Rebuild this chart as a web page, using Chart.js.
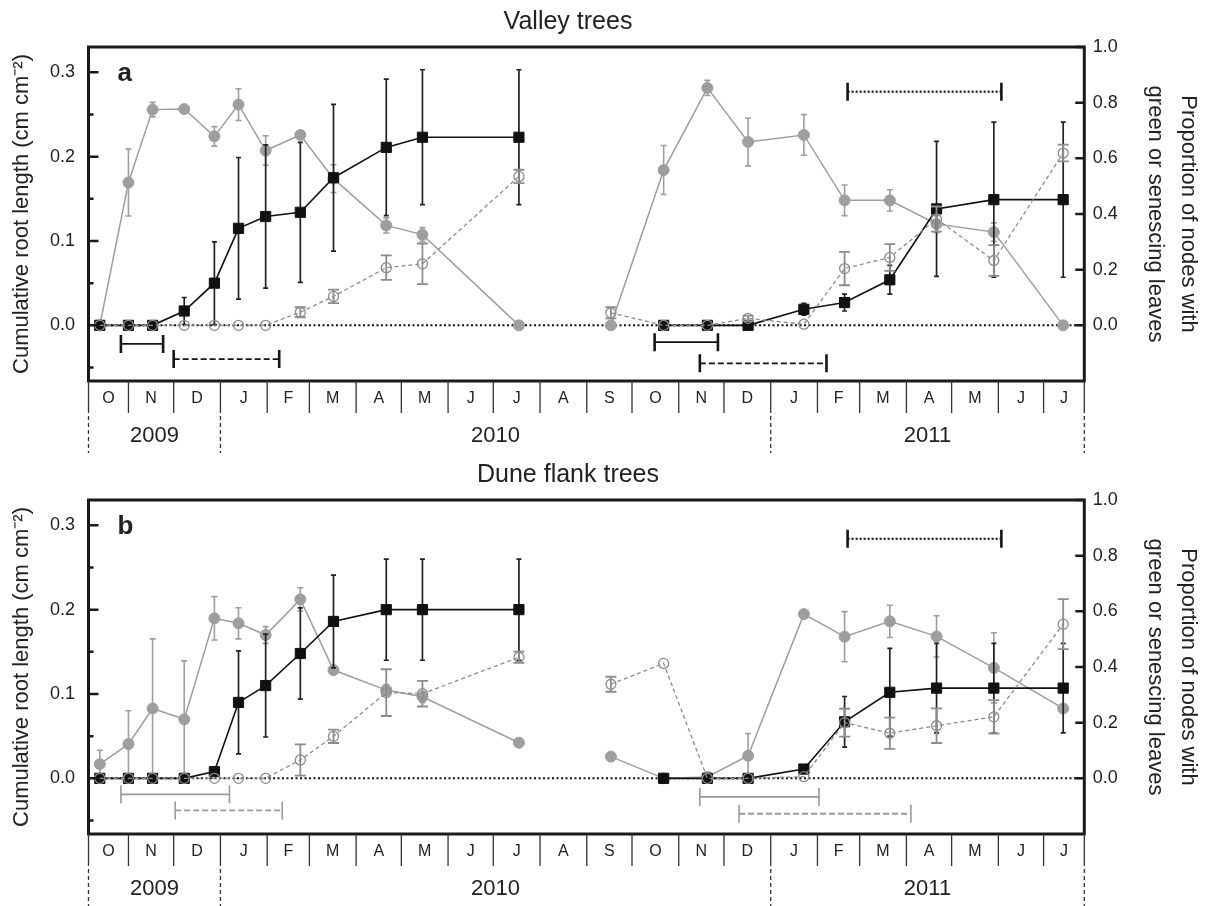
<!DOCTYPE html>
<html>
<head>
<meta charset="utf-8">
<title>Root growth and leaf phenology</title>
<script src="https://cdn.jsdelivr.net/npm/chart.js@4.4.1/dist/chart.umd.min.js"></script>
<style>
  body { margin: 0; background: #fff; }
  canvas { display: block; }
</style>
</head>
<body>
<canvas id="valleyChart" width="1210" height="453"></canvas>
<canvas id="duneChart" width="1210" height="453"></canvas>
<script>
// Sampling dates, shared by both panels
const sampleDates = [
  '2009-10-13', '2009-11-01', '2009-11-17', '2009-12-08', '2009-12-28', '2010-01-13',
  '2010-01-31', '2010-02-23', '2010-03-17', '2010-04-21', '2010-05-15', '2010-07-18',
  '2010-09-17', '2010-10-22', '2010-11-20', '2010-12-17', '2011-01-23', '2011-02-19',
  '2011-03-21', '2011-04-21', '2011-05-29', '2011-07-14'
];
const seasonBreak = 11; // last sample of the first season, lines are not joined after it

const monthLetters = ['O', 'N', 'D', 'J', 'F', 'M', 'A', 'M', 'J', 'J', 'A', 'S',
                      'O', 'N', 'D', 'J', 'F', 'M', 'A', 'M', 'J', 'J'];
const yearLabels = ['2009', '2010', '2011'];
const yearStarts = ['2009-10-01', '2010-01-01', '2011-01-01', '2011-08-01'];

// Valley trees (a)
const rootA     = [0, 0, 0, 0.017, 0.050, 0.115, 0.129, 0.134, 0.175, 0.211, 0.223, 0.223,
                   null, 0, 0, 0, 0.019, 0.027, 0.054, 0.138, 0.149, 0.149];
const rootErrA  = [0, 0, 0, 0.016, 0.049, 0.084, 0.085, 0.083, 0.087, 0.081, 0.080, 0.080,
                   null, 0, 0, 0, 0.007, 0.010, 0.017, 0.080, 0.092, 0.092];
const greenA    = [0, 0.513, 0.775, 0.777, 0.679, 0.793, 0.628, 0.684, 0.527, 0.359, 0.326, 0,
                   0, 0.558, 0.853, 0.659, 0.684, 0.449, 0.449, 0.364, 0.335, 0];
const greenErrA = [0, 0.120, 0.026, 0, 0.035, 0.057, 0.053, 0.010, 0.050, 0.027, 0.025, 0,
                   0, 0.088, 0.027, 0.086, 0.073, 0.055, 0.038, 0.030, 0.033, 0];
const senesA    = [0, 0, 0, 0, 0, 0, 0, 0.047, 0.104, 0.207, 0.221, 0.535,
                   0.045, 0, 0, 0.025, 0.004, 0.204, 0.244, 0.382, 0.233, 0.619];
const senesErrA = [0, 0, 0, 0, 0, 0, 0, 0.018, 0.024, 0.044, 0.073, 0.024,
                   0.020, 0, 0, 0.010, 0, 0.060, 0.048, 0.045, 0.055, 0.030];
const periodStartA = ['2009-10-27', '2009-12-01', '2010-10-16', '2010-11-15', '2011-02-21'];
const periodEndA   = ['2009-11-24', '2010-02-09', '2010-11-27', '2011-02-07', '2011-06-03'];
const periodLevelA = [-0.022, -0.040, -0.020, -0.045, 0.277];
const periodKindA  = ['solid', 'dashed', 'solid', 'dashed', 'dotted'];

// Dune flank trees (b)
const rootB     = [0, 0, 0, 0, 0.008, 0.090, 0.110, 0.148, 0.186, 0.200, 0.200, 0.200,
                   null, 0, 0, 0, 0.011, 0.067, 0.102, 0.107, 0.107, 0.107];
const rootErrB  = [0, 0, 0, 0, 0, 0.061, 0.061, 0.054, 0.055, 0.060, 0.060, 0.060,
                   null, 0, 0, 0, 0, 0.030, 0.052, 0.053, 0.053, 0.053];
const greenB    = [0.051, 0.123, 0.251, 0.212, 0.575, 0.557, 0.515, 0.643, 0.389, 0.317, 0.293, 0.128,
                   0.078, 0, 0.005, 0.081, 0.590, 0.509, 0.564, 0.510, 0.397, 0.251];
const greenErrB = [0.050, 0.120, 0.250, 0.210, 0.078, 0.056, 0.030, 0.042, 0, 0.020, 0.020, 0.015,
                   0, 0, 0, 0.080, 0, 0.090, 0.058, 0.074, 0.126, 0];
const senesB    = [0, 0, 0, 0, 0, 0, 0, 0.066, 0.151, 0.308, 0.304, 0.435,
                   0.338, 0.413, 0, 0, 0.006, 0.200, 0.162, 0.189, 0.221, 0.554];
const senesErrB = [0, 0, 0, 0, 0, 0, 0, 0.056, 0.024, 0.084, 0.046, 0.020,
                   0.027, 0, 0, 0, 0, 0.050, 0.056, 0.062, 0.060, 0.090];
const periodStartB = ['2009-10-27', '2009-12-02', '2010-11-15', '2010-12-11', '2011-02-21'];
const periodEndB   = ['2010-01-07', '2010-02-11', '2011-02-02', '2011-04-04', '2011-06-03'];
const periodLevelB = [-0.019, -0.038, -0.022, -0.042, 0.284];
const periodKindB  = ['solid', 'dashed', 'solid', 'dashed', 'dotted'];

const FONT = '"Liberation Sans", Arial, Helvetica, sans-serif';
Chart.defaults.font.family = FONT;
Chart.defaults.color = '#222';

// x axis is days since 1 Oct 2009
const origin = Date.UTC(2009, 9, 1);
function dayOf(s) {
  const [y, m, d] = s.split('-').map(Number);
  return (Date.UTC(y, m - 1, d) - origin) / 864e5;
}
const xMin = 4.5, xMax = 665;

function points(values) {
  return sampleDates.map((d, i) => ({ x: dayOf(d), y: values[i] }));
}

// tick label: blank below zero, and no "-0.0"
function tickLabel(v) {
  if (v < -1e-9) return '';
  return Math.abs(v) < 1e-9 ? '0.0' : v.toFixed(1);
}

// hide the segment that would join the two field seasons
const seasonGap = { borderColor: c => c.p0DataIndex === seasonBreak ? 'rgba(0,0,0,0)' : undefined };

/**
 * Error bars, drawn under the markers of each dataset that carries an `errors` list.
 */
const errorBars = {
  id: 'errorBars',
  beforeDatasetDraw(chart, args) {
    const ds = chart.data.datasets[args.index];
    if (!ds.errors) return;
    const yScale = chart.scales[ds.yAxisID];
    const ctx = chart.ctx;
    ctx.save();
    ctx.strokeStyle = ds.errorColor;
    ctx.lineWidth = ds.errorWidth;
    args.meta.data.forEach((pt, i) => {
      const v = ds.data[i].y, e = ds.errors[i];
      if (v == null || !e) return;
      const top = yScale.getPixelForValue(v + e);
      const bot = yScale.getPixelForValue(v - e);
      const half = ds.capWidth / 2;
      ctx.beginPath();
      ctx.moveTo(pt.x, top); ctx.lineTo(pt.x, bot);
      ctx.moveTo(pt.x - half, top); ctx.lineTo(pt.x + half, top);
      ctx.moveTo(pt.x - half, bot); ctx.lineTo(pt.x + half, bot);
      ctx.stroke();
    });
    ctx.restore();
  }
};

/**
 * Frame, inward ticks, zero line, month/year strip, panel title and letter.
 */
const panelDecor = {
  id: 'panelDecor',
  beforeDatasetsDraw(chart) {
    const { ctx, chartArea: a, scales: { y } } = chart;
    const y0 = y.getPixelForValue(0);
    ctx.save();
    ctx.strokeStyle = '#111';
    ctx.lineWidth = 2;
    ctx.setLineDash([2, 2.5]);
    ctx.beginPath();
    ctx.moveTo(a.left, y0);
    ctx.lineTo(a.right, y0);
    ctx.stroke();
    ctx.restore();
  },
  afterDraw(chart, args, opts) {
    const { ctx, chartArea: a, scales: { x, y, y2 } } = chart;
    ctx.save();

    // inward ticks on both value axes
    ctx.strokeStyle = '#1a1a1a';
    ctx.lineWidth = 2.5;
    ctx.beginPath();
    for (let k = -1; k <= 6; k++) {
      const py = y.getPixelForValue(k * 0.05);
      const len = k % 2 === 0 ? 10 : 5;
      ctx.moveTo(a.left, py); ctx.lineTo(a.left + len, py);
    }
    for (let k = 0; k <= 5; k++) {
      const py = y2.getPixelForValue(k * 0.2);
      ctx.moveTo(a.right, py); ctx.lineTo(a.right - 9, py);
    }
    ctx.stroke();

    // frame
    ctx.lineWidth = 3;
    ctx.strokeRect(a.left, a.top, a.right - a.left, a.bottom - a.top);

    // month strip
    const clamp = d => Math.min(xMax, Math.max(xMin, d));
    const monthDays = monthLetters.map((_, i) => dayOf(
      new Date(Date.UTC(2009, 9 + i, 1)).toISOString().slice(0, 10)));
    monthDays.push(dayOf('2011-08-01'));
    const stripTop = a.bottom, stripBot = a.bottom + 32;
    ctx.strokeStyle = '#333';
    ctx.lineWidth = 1.3;
    ctx.beginPath();
    monthDays.forEach(d => {
      const px = x.getPixelForValue(clamp(d));
      ctx.moveTo(px, stripTop); ctx.lineTo(px, stripBot);
    });
    ctx.stroke();
    ctx.fillStyle = '#222';
    ctx.textAlign = 'center';
    ctx.textBaseline = 'middle';
    ctx.font = '16px ' + FONT;
    monthLetters.forEach((m, i) => {
      const mid = (clamp(monthDays[i]) + clamp(monthDays[i + 1])) / 2;
      ctx.fillText(m, x.getPixelForValue(mid), stripTop + 18);
    });

    // year strip
    ctx.setLineDash([4, 3]);
    ctx.beginPath();
    yearStarts.forEach(s => {
      const px = x.getPixelForValue(clamp(dayOf(s)));
      ctx.moveTo(px, stripBot + 3); ctx.lineTo(px, chart.height);
    });
    ctx.stroke();
    ctx.setLineDash([]);
    ctx.font = '22px ' + FONT;
    yearLabels.forEach((yr, i) => {
      const mid = (clamp(dayOf(yearStarts[i])) + clamp(dayOf(yearStarts[i + 1]))) / 2;
      ctx.fillText(yr, x.getPixelForValue(mid), stripBot + 23);
    });

    // panel title and letter
    ctx.font = '25px ' + FONT;
    ctx.fillText(opts.title, 568, 22);
    ctx.font = 'bold 26px ' + FONT;
    ctx.textAlign = 'left';
    ctx.textBaseline = 'alphabetic';
    ctx.fillText(opts.letter, a.left + 29, a.top + 34);
    ctx.restore();
  }
};

function periodDataset(start, end, level, kind, grey) {
  const color = kind === 'dotted' || !grey ? '#151515' : '#9a9a9a';
  const dash = { solid: [], dashed: [6, 3], dotted: [2, 2] }[kind];
  return {
    data: [{ x: dayOf(start), y: level }, { x: dayOf(end), y: level }],
    yAxisID: 'y',
    borderColor: color,
    borderWidth: kind === 'dotted' ? 2.2 : 1.8,
    borderDash: dash,
    pointStyle: 'line',
    pointRotation: 90,
    pointRadius: 9,
    pointBorderColor: color,
    pointBorderWidth: grey && kind !== 'dotted' ? 1.6 : 2.6
  };
}

function buildPanel(canvasId, p) {
  const datasets = [
    {
      label: 'Senescing leaves',
      data: points(p.senes),
      errors: p.senesErr, errorColor: '#8c8c8c', errorWidth: 1.8, capWidth: 11,
      yAxisID: 'y2',
      borderColor: '#8c8c8c', borderWidth: 1.3, borderDash: [4, 3],
      pointRadius: 5, pointBackgroundColor: 'rgba(255,255,255,0)',
      pointBorderColor: '#8c8c8c', pointBorderWidth: 1.3,
      segment: seasonGap
    },
    {
      label: 'Cumulative root length',
      data: points(p.root),
      errors: p.rootErr, errorColor: '#222', errorWidth: 1.7, capWidth: 5,
      yAxisID: 'y',
      borderColor: '#111', borderWidth: 1.6,
      pointStyle: 'rect', pointRadius: 7.2,
      pointBackgroundColor: '#111', pointBorderColor: '#111', pointBorderWidth: 1,
      segment: seasonGap
    },
    {
      label: 'Green leaves',
      data: points(p.green),
      errors: p.greenErr, errorColor: '#9e9e9e', errorWidth: 1.6, capWidth: 6,
      yAxisID: 'y2',
      borderColor: '#9e9e9e', borderWidth: 1.5,
      pointRadius: 5.5, pointBackgroundColor: '#9e9e9e', pointBorderColor: '#9e9e9e',
      pointBorderWidth: 1,
      segment: seasonGap
    }
  ];
  p.periodStart.forEach((s, i) => {
    datasets.push(periodDataset(s, p.periodEnd[i], p.periodLevel[i], p.periodKind[i], p.greyBars));
  });

  return new Chart(document.getElementById(canvasId), {
    type: 'line',
    data: { datasets },
    options: {
      responsive: false,
      animation: false,
      events: [],
      layout: { padding: { top: 47, bottom: 72, left: 0, right: 0 } },
      elements: { line: { tension: 0, fill: false } },
      plugins: {
        legend: { display: false },
        tooltip: { enabled: false },
        panelDecor: { title: p.title, letter: p.letter }
      },
      scales: {
        x: { type: 'linear', min: xMin, max: xMax, display: false },
        y: {
          position: 'left',
          min: -0.066, max: 0.33,
          afterFit: s => { s.width = 88.5; },
          grid: { display: false, drawTicks: false },
          border: { display: false },
          ticks: {
            stepSize: 0.1, includeBounds: false, padding: 13.5,
            font: { size: 18 }, color: '#222',
            callback: tickLabel
          },
          title: {
            display: true, text: 'Cumulative root length (cm cm\u207B\u00B2)',
            font: { size: 22 }, color: '#222', padding: { top: 8.5, bottom: 0 }
          }
        },
        y2: {
          position: 'right',
          min: -0.2, max: 1.0,
          afterFit: s => { s.width = 125.7; },
          grid: { display: false, drawTicks: false },
          border: { display: false },
          ticks: {
            stepSize: 0.2, includeBounds: false, padding: 8.5,
            font: { size: 18 }, color: '#222',
            callback: tickLabel
          },
          title: {
            display: true, text: ['Proportion of nodes with', 'green or senescing leaves'],
            font: { size: 22, lineHeight: 1.5 }, color: '#222', padding: { top: 5.5, bottom: 0 }
          }
        }
      }
    },
    plugins: [errorBars, panelDecor]
  });
}

buildPanel('valleyChart', {
  title: 'Valley trees', letter: 'a',
  root: rootA, rootErr: rootErrA, green: greenA, greenErr: greenErrA,
  senes: senesA, senesErr: senesErrA,
  periodStart: periodStartA, periodEnd: periodEndA, periodLevel: periodLevelA,
  periodKind: periodKindA, greyBars: false
});

buildPanel('duneChart', {
  title: 'Dune flank trees', letter: 'b',
  root: rootB, rootErr: rootErrB, green: greenB, greenErr: greenErrB,
  senes: senesB, senesErr: senesErrB,
  periodStart: periodStartB, periodEnd: periodEndB, periodLevel: periodLevelB,
  periodKind: periodKindB, greyBars: true
});
</script>
</body>
</html>
